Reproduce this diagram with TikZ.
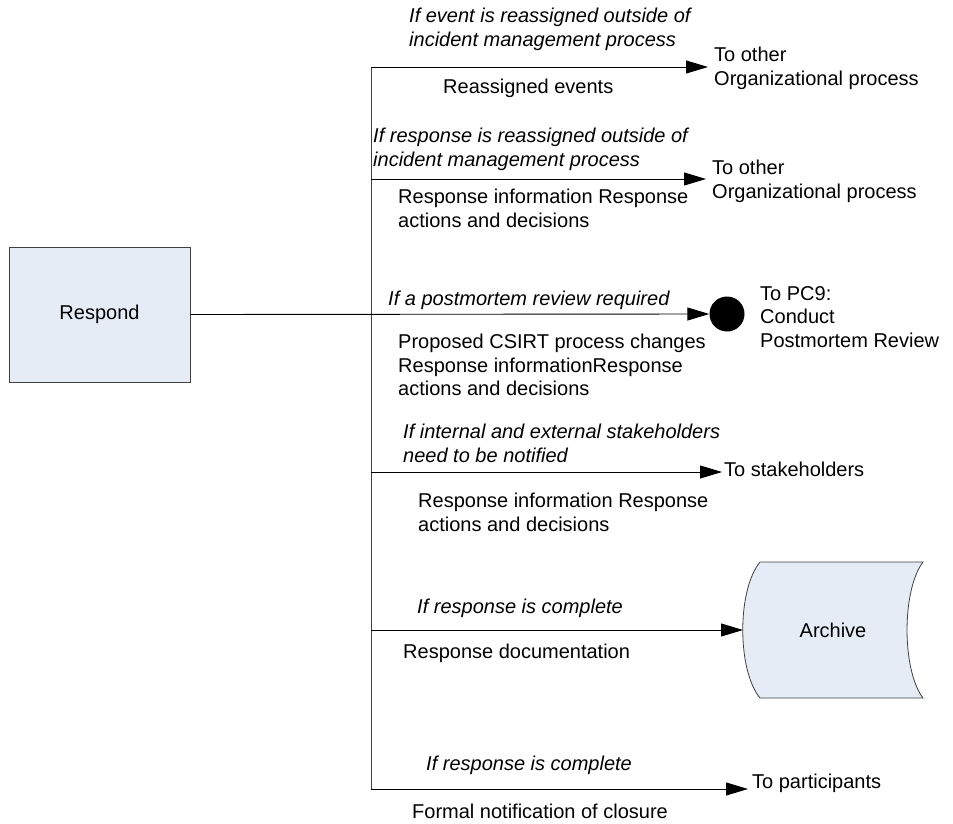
\documentclass[tikz,border=0pt]{standalone}
\usepackage{fontspec}
\setmainfont{Liberation Sans}
\usetikzlibrary{arrows.meta}
\definecolor{boxfill}{HTML}{E6ECF6}
\definecolor{boxline}{HTML}{404040}
\begin{document}
\begin{tikzpicture}[x=1pt,y=-1pt,
  every node/.style={font=\fontsize{20}{23.5}\selectfont},
  txt/.style={anchor=north west,inner sep=0pt,align=left},
  cond/.style={txt,font=\fontsize{20}{23.5}\selectfont\itshape},
  flow/.style={line width=0.9pt,-{Triangle[length=22pt,width=13pt]}},
  trunk/.style={line width=0.9pt,draw=black!75},
  procbox/.style={draw=boxline,fill=boxfill,line width=0.8pt,minimum width=181pt,minimum height=135pt,inner sep=0pt}
]
\useasboundingbox (0,0) rectangle (953,824);

% process box and the distribution trunk
\node[procbox] (respond) at (99.5,314.5) {Respond};
\coordinate (ttop) at (371,67);
\coordinate (tbot) at (371,789);
\draw[trunk] (ttop) -- (tbot);

% branch: reassigned events
\coordinate (b1) at (371,67);
\coordinate (e1) at (708,67);
\draw[flow] (b1) -- (e1);
\node[cond] (c1) at (409,8) {If event is reassigned outside of\\incident management process};
\node[txt] (d1) at (443,79) {Reassigned events};
\node[txt] (t1) at (714,47) {To other\\Organizational process};

% branch: reassigned response
\coordinate (b2) at (371,179);
\coordinate (e2) at (706,179);
\draw[flow] (b2) -- (e2);
\node[cond] (c2) at (373,128) {If response is reassigned outside of\\incident management process};
\node[txt] (d2) at (398,189) {Response information Response\\actions and decisions};
\node[txt] (t2) at (712,160) {To other\\Organizational process};

% branch: postmortem review (connector)
\node[circle,fill=black,minimum size=35pt,inner sep=0pt] (pc9) at (727,314) {};
\draw[flow] (respond.east) -- (pc9.west);
\node[cond] (c3) at (388,291) {If a postmortem review required};
\node[txt] (d3) at (398,334) {Proposed CSIRT process changes\\Response informationResponse\\actions and decisions};
\node[txt] (t3) at (760,286) {To PC9:\\Conduct\\Postmortem Review};

% branch: stakeholders
\coordinate (b4) at (371,472);
\coordinate (e4) at (722,472);
\draw[flow] (b4) -- (e4);
\node[cond] (c4) at (403,424) {If internal and external stakeholders\\need to be notified};
\node[txt] (d4) at (418,493) {Response information Response\\actions and decisions};
\node[txt] (t4) at (724,462) {To stakeholders};

% branch: archive (stored data)
\coordinate (b5) at (371,630);
\draw[boxline,fill=boxfill,line width=0.8pt]
  (760,562) -- (923,562) .. controls (901.7,590) and (901.7,670) .. (923,698)
  -- (760,698) .. controls (737,670) and (737,590) .. (760,562);
\node (archive) at (833,630) {Archive};
\coordinate (e5) at (743,630);
\draw[flow] (b5) -- (e5);
\node[cond] (c5) at (417,599) {If response is complete};
\node[txt] (d5) at (403,644) {Response documentation};

% branch: participants
\coordinate (b6) at (371,789);
\coordinate (e6) at (748,789);
\draw[flow] (b6) -- (e6);
\node[cond] (c6) at (426,756) {If response is complete};
\node[txt] (d6) at (412,804) {Formal notification of closure};
\node[txt] (t6) at (752,774) {To participants};
\end{tikzpicture}
\end{document}
